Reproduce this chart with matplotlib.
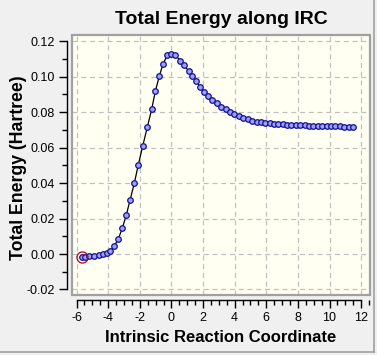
import matplotlib
matplotlib.use("Agg")
import matplotlib.pyplot as plt
from matplotlib.patches import Rectangle
from matplotlib.lines import Line2D
from matplotlib.ticker import MultipleLocator, FormatStrFormatter

# IRC data
irc_x = [-5.68, -5.44, -5.20, -4.88, -4.60, -4.35, -4.10, -3.87, -3.62, -3.36,
         -3.11, -2.86, -2.62, -2.35, -2.10, -1.82, -1.53, -1.25, -1.02, -0.77,
         -0.54, -0.27, 0.00, 0.24, 0.56, 0.79, 1.08, 1.33, 1.56, 1.82,
         2.07, 2.33, 2.58, 2.87, 3.14, 3.43, 3.70, 3.97, 4.25, 4.54,
         4.82, 5.10, 5.39, 5.66, 5.93, 6.22, 6.48, 6.75, 7.03, 7.31,
         7.59, 7.87, 8.15, 8.42, 8.70, 8.98, 9.26, 9.54, 9.82, 10.09,
         10.37, 10.65, 10.93, 11.21, 11.49]
energy = [-0.0018, -0.0015, -0.0013, -0.0010, -0.0006, 0.0000, 0.0007, 0.0017, 0.0043, 0.0085,
          0.0145, 0.0218, 0.0303, 0.0398, 0.0501, 0.0607, 0.0714, 0.0815, 0.0917, 0.1001,
          0.1069, 0.1119, 0.1127, 0.1119, 0.1090, 0.1064, 0.1033, 0.1001, 0.0974, 0.0942,
          0.0915, 0.0890, 0.0870, 0.0850, 0.0831, 0.0817, 0.0802, 0.0789, 0.0777, 0.0768,
          0.0759, 0.0752, 0.0746, 0.0742, 0.0739, 0.0736, 0.0734, 0.0732, 0.0731, 0.0729,
          0.0728, 0.0727, 0.0726, 0.0725, 0.0724, 0.0723, 0.0722, 0.0722, 0.0721, 0.0720,
          0.0720, 0.0719, 0.0718, 0.0718, 0.0717]
current_point = 0  # index of highlighted point

title = "Total Energy along IRC"
xlabel = "Intrinsic Reaction Coordinate"
ylabel = "Total Energy (Hartree)"

plt.rcParams['font.family'] = ['Liberation Sans', 'DejaVu Sans']

fig = plt.figure(figsize=(3.77, 3.55), dpi=100, facecolor='#F0F0F0')
ax = fig.add_axes([72/377, 1-295/355, (370-72)/377, (295-35)/355])
ax.set_facecolor('#FFFFF2')

ax.set_xlim(-6.29, 12.56)
ax.set_ylim(-0.0231, 0.1234)

ax.plot(irc_x, energy, color='black', lw=0.9, zorder=3)
ax.plot(irc_x, energy, ls='none', marker='o', markersize=4.0,
        markerfacecolor='#A0A0F0', markeredgecolor='#10109A', markeredgewidth=0.9, zorder=4)
ax.plot([irc_x[current_point]], [energy[current_point]], ls='none', marker='o',
        markersize=8, markerfacecolor='none', markeredgecolor='#B00020',
        markeredgewidth=0.9, zorder=5)

ax.xaxis.set_major_locator(MultipleLocator(2))
ax.xaxis.set_minor_locator(MultipleLocator(0.5))
ax.yaxis.set_major_locator(MultipleLocator(0.02))
ax.yaxis.set_minor_locator(MultipleLocator(0.01))
ax.yaxis.set_major_formatter(FormatStrFormatter('%.2f'))
ax.xaxis.set_major_formatter(FormatStrFormatter('%d'))

ax.grid(True, which='major', color='#C0C0C0', ls=(0, (4, 3)), lw=0.9, zorder=1)

for s in ['top', 'right']:
    ax.spines[s].set_visible(False)
for s in ['left', 'bottom']:
    ax.spines[s].set_position(('outward', 3.3))
    ax.spines[s].set_color('black')
    ax.spines[s].set_linewidth(1.0)
ax.spines['left'].set_bounds(-0.02, 0.12)
ax.spines['bottom'].set_bounds(-6, 12)

ax.add_patch(Rectangle((0, 0), 1, 1, transform=ax.transAxes, fill=False,
                       edgecolor='#A0A0A0', lw=1.6, clip_on=False, zorder=6))

ax.tick_params(which='major', length=6, width=1.0, direction='out',
               labelsize=9, pad=3, colors='black')
ax.tick_params(which='minor', length=3.5, width=1.0, direction='out')

ax.set_title(title, fontsize=14, fontweight='bold', pad=8)
ax.set_xlabel(xlabel, fontsize=12, fontweight='bold', labelpad=4)
ax.set_ylabel(ylabel, fontsize=12.7, fontweight='bold')
ax.yaxis.set_label_coords(-0.152, 0.49)

# window border
fig.add_artist(Line2D([374/377, 374/377], [3/355, 1], color='#A0A0A0', lw=1.2,
                      transform=fig.transFigure))
fig.add_artist(Line2D([0, 374/377], [3/355, 3/355], color='#A0A0A0', lw=1.2,
                      transform=fig.transFigure))

fig.savefig('out.png', dpi=100, facecolor=fig.get_facecolor())
